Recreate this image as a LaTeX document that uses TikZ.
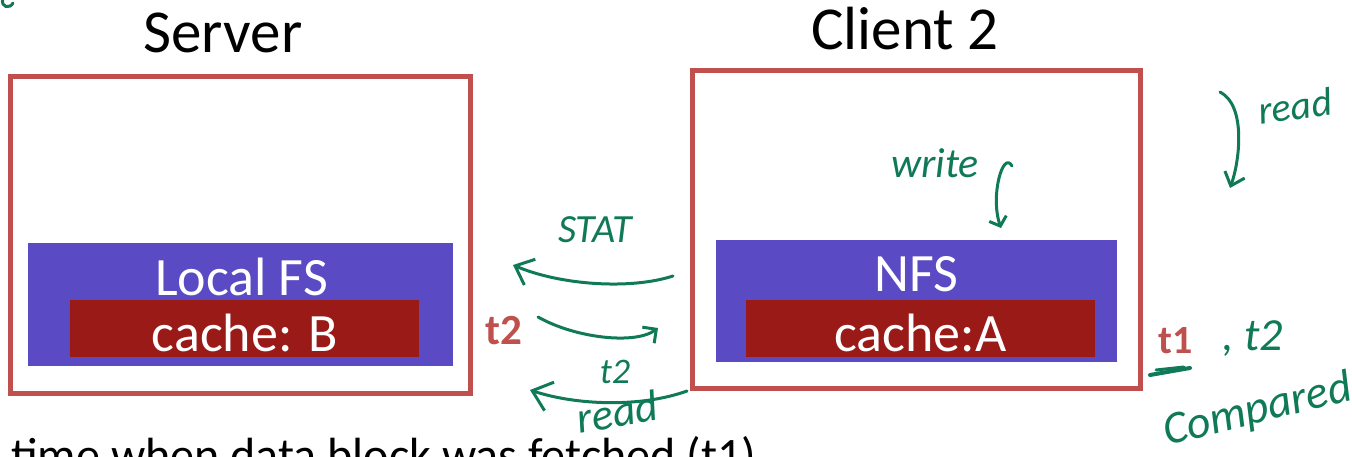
\documentclass[tikz,border=0pt]{standalone}
\usepackage{fontspec}
\setmainfont{Carlito}
\usetikzlibrary{arrows.meta}

\definecolor{boxred}{HTML}{C0504D}
\definecolor{fsblue}{HTML}{5A4AC3}
\definecolor{cachered}{HTML}{9A1A18}
\definecolor{ink}{HTML}{107A58}

\begin{document}
\begin{tikzpicture}[x=1pt,y=-1pt,
  machine/.style={draw=boxred, line width=5pt, inner sep=0pt},
  layer/.style={fill=fsblue, inner sep=0pt},
  cachebox/.style={fill=cachered, inner sep=0pt},
  title/.style={font=\fontsize{61}{70}\selectfont, anchor=base, inner sep=0pt},
  label/.style={text=white, font=\fontsize{54}{60}\selectfont, anchor=base, inner sep=0pt},
  stamp/.style={text=boxred, font=\bfseries\fontsize{43}{50}\selectfont, anchor=base west, inner sep=0pt},
  hand/.style={draw=ink, line width=3pt, line cap=round, line join=round},
  handtext/.style={text=ink, font=\itshape\fontsize{40}{44}\selectfont, inner sep=0pt},
]
\useasboundingbox (0,0) rectangle (1352,457);

% --- server machine ---
\node[machine, minimum width=459.5pt, minimum height=316.5pt] (server) at (240.25,235.25) {};
\node[title] (servertitle) at (223,53) {Server};
\node[layer, minimum width=425pt, minimum height=123pt] (localfs) at (240.5,304.5) {};
\node[cachebox, minimum width=349pt, minimum height=57pt] (servercache) at (244.5,328.5) {};
\node[label] (localfslabel) at (241.5,295) {Local FS};
\node[label] (servercachelabel) at (245,351) {cache: B};
\node[stamp] (servertime) at (485,344) {t2};

% --- client machine ---
\node[machine, minimum width=448pt, minimum height=317.5pt] (client) at (916,229.75) {};
\node[title] (clienttitle) at (905,50) {Client 2};
\node[layer, minimum width=401pt, minimum height=122pt] (nfs) at (916.5,301) {};
\node[cachebox, minimum width=349pt, minimum height=57pt] (clientcache) at (920.5,328.5) {};
\node[label] (nfslabel) at (916.5,291) {NFS};
\node[label] (clientcachelabel) at (920.5,351) {cache:A};
\node[stamp, font=\bfseries\fontsize{40}{46}\selectfont] (clienttime) at (1158,353) {t1};

% --- caption line ---
\node[anchor=base west, inner sep=0pt, font=\fontsize{48}{56}\selectfont] (note) at (11,471)
  {time when data block was fetched (t1)};

% --- hand-drawn annotations ---
\coordinate (stat-from) at (673,276);
\coordinate (stat-to) at (513,265);
\draw[hand, -{Straight Barb[length=16pt,width=28pt]}]
  (stat-from) .. controls (630,290) and (560,285) .. (stat-to);
\node[handtext] (stat) at (595,230) {STAT};

\coordinate (reply-from) at (538,317);
\coordinate (reply-to) at (658,328);
\draw[hand, -{Straight Barb[length=10pt,width=20pt]}]
  (reply-from) .. controls (575,338) and (635,345) .. (reply-to);

\coordinate (fetch-from) at (687,391);
\coordinate (fetch-to) at (530,390);
\draw[hand, -{Straight Barb[length=18pt,width=30pt]}]
  (fetch-from) .. controls (640,408) and (575,405) .. (fetch-to);
\node[handtext, font=\itshape\fontsize{36}{40}\selectfont] (fetcht2) at (615,372) {t2};
\node[handtext, rotate=10, font=\itshape\fontsize{44}{48}\selectfont] (fetchread) at (617,412) {read};

\coordinate (write-from) at (1012,166);
\coordinate (write-to) at (1001,228);
\draw[hand, -{Straight Barb[length=8pt,width=18pt]}]
  (write-from) .. controls (1003,150) and (990,196) .. (write-to);
\node[handtext, font=\itshape\fontsize{42}{46}\selectfont] (write) at (935,163) {write};

\coordinate (read-from) at (1220,92);
\coordinate (read-to) at (1230,188);
\draw[hand, -{Straight Barb[length=12pt,width=21pt]}]
  (read-from) .. controls (1246,105) and (1240,160) .. (read-to);
\node[handtext, rotate=8] (readright) at (1295,106) {read};

\coordinate (mark-a) at (1150,375);
\coordinate (mark-b) at (1190,368);
\coordinate (mark-c) at (1156,370);
\coordinate (mark-d) at (1184,367);
\draw[hand, line width=4pt] (mark-a) -- (mark-b);
\draw[hand] (mark-c) -- (mark-d);
\node[handtext, anchor=base west, font=\itshape\fontsize{46}{50}\selectfont] (alsot2) at (1222,350) {, t2};
\node[handtext, rotate=14, anchor=base west, font=\itshape\fontsize{46}{50}\selectfont] (compared) at (1167,446) {Compared};

\coordinate (hook-a) at (3,-2);
\coordinate (hook-b) at (13,3);
\draw[hand] (hook-a) .. controls (0,8) and (10,9) .. (hook-b);
\end{tikzpicture}
\end{document}
